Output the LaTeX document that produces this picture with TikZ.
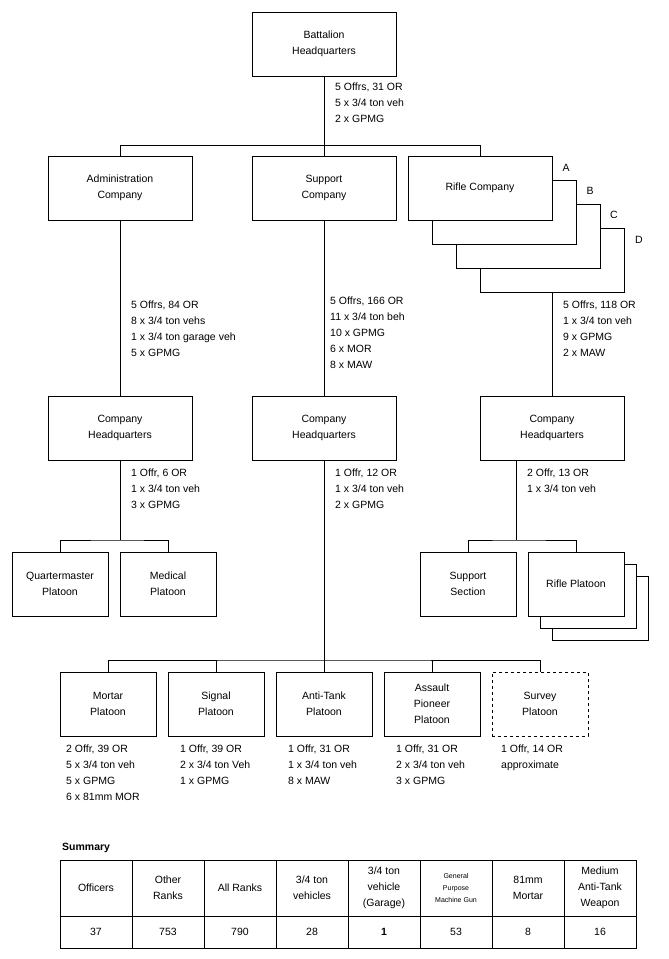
\documentclass[tikz,border=0pt]{standalone}
\usepackage{fontspec}
\setmainfont{Liberation Sans}
\begin{document}
\begin{tikzpicture}[x=1pt,y=-1pt,font=\fontsize{10.5}{16}\selectfont,
 bx/.style={draw,fill=white,align=center,inner sep=0},
 info/.style={anchor=north west,align=left,inner sep=0,font=\fontsize{10.5}{16}\selectfont},
 hd/.style={align=center,inner sep=0,font=\fontsize{10.5}{16}\selectfont}]
\useasboundingbox[fill=white] (0,0) rectangle (669,959);
% Battalion
\node[bx,minimum width=144,minimum height=64] (bn) at (324,44) {Battalion\\Headquarters};
\node[info] (bni) at (335,83) {5 Offrs, 31 OR\\5 x 3/4 ton veh\\2 x GPMG};
\coordinate (j1) at (324,145);
\draw (bn.south) -- (j1);
\draw (120,145) coordinate (jl) -- (480,145) coordinate (jr);
% companies
\node[bx,minimum width=144,minimum height=64] (adm) at (120,188) {Administration\\Company};
\node[bx,minimum width=144,minimum height=64] (sup) at (324,188) {Support\\Company};
\node[bx,minimum width=144,minimum height=64] (rD) at (552,260) {};
\node[bx,minimum width=144,minimum height=64] (rC) at (528,236) {};
\node[bx,minimum width=144,minimum height=64] (rB) at (504,212) {};
\node[bx,minimum width=144,minimum height=64] (rA) at (480,188) {Rifle Company};
\draw (jl) -- (adm.north); \draw (j1) -- (sup.north); \draw (jr) -- (rA.north);
\node (lA) at (566,168) {A}; \node (lB) at (590,191) {B};
\node (lC) at (614,215) {C}; \node (lD) at (639,240) {D};
% company HQs
\node[bx,minimum width=144,minimum height=64] (ahq) at (120,428) {Company\\Headquarters};
\node[bx,minimum width=144,minimum height=64] (shq) at (324,428) {Company\\Headquarters};
\node[bx,minimum width=144,minimum height=64] (rhq) at (552,428) {Company\\Headquarters};
\draw (adm.south) -- (ahq.north); \draw (sup.south) -- (shq.north); \draw (rD.south) -- (rhq.north);
\node[info] (ai) at (131,301) {5 Offrs, 84 OR\\8 x 3/4 ton vehs\\1 x 3/4 ton garage veh\\5 x GPMG};
\node[info] (si) at (330,297) {5 Offrs, 166 OR\\11 x 3/4 ton beh\\10 x GPMG\\6 x MOR\\8 x MAW};
\node[info] (ri) at (563,301) {5 Offrs, 118 OR\\1 x 3/4 ton veh\\9 x GPMG\\2 x MAW};
\node[info] (ahi) at (131,469) {1 Offr, 6 OR\\1 x 3/4 ton veh\\3 x GPMG};
\node[info] (shi) at (335,469) {1 Offr, 12 OR\\1 x 3/4 ton veh\\2 x GPMG};
\node[info] (rhi) at (527,469) {2 Offr, 13 OR\\1 x 3/4 ton veh};
% admin platoons
\node[bx,minimum width=96,minimum height=64] (qm) at (60,584) {Quartermaster\\Platoon};
\node[bx,minimum width=96,minimum height=64] (med) at (168,584) {Medical\\Platoon};
\coordinate (ja) at (120,540);
\draw (ahq.south) -- (ja); \draw (qm.north) |- (ja) -| (med.north);
% rifle platoons
\node[bx,minimum width=96,minimum height=64] (ss) at (468,584) {Support\\Section};
\node[bx,minimum width=96,minimum height=64] (rp3) at (600,608) {};
\node[bx,minimum width=96,minimum height=64] (rp2) at (588,596) {};
\node[bx,minimum width=96,minimum height=64] (rp) at (576,584) {Rifle Platoon};
\coordinate (jr2) at (516,540);
\coordinate (jr1) at (516,460);
\draw (jr1) -- (jr2); \draw (ss.north) |- (jr2) -| (rp.north);
% support platoons
\coordinate (js) at (324,660);
\draw (shq.south) -- (js);
\node[bx,minimum width=96,minimum height=64] (mor) at (108,704) {Mortar\\Platoon};
\node[bx,minimum width=96,minimum height=64] (sig) at (216,704) {Signal\\Platoon};
\node[bx,minimum width=96,minimum height=64] (at) at (324,704) {Anti-Tank\\Platoon};
\node[bx,minimum width=96,minimum height=64] (ap) at (432,704) {Assault\\Pioneer\\Platoon};
\node[bx,dashed,minimum width=96,minimum height=64] (sv) at (540,704) {Survey\\Platoon};
\draw (mor.north) |- (js) -| (sv.north);
\draw (sig.north) -- (sig.north|-js); \draw (at.north) -- (js); \draw (ap.north) -- (ap.north|-js);
\node[info] (mi) at (66,745) {2 Offr, 39 OR\\5 x 3/4 ton veh\\5 x GPMG\\6 x 81mm MOR};
\node[info] (sgi) at (180,745) {1 Offr, 39 OR\\2 x 3/4 ton Veh\\1 x GPMG};
\node[info] (ati) at (288,745) {1 Offr, 31 OR\\1 x 3/4 ton veh\\8 x MAW};
\node[info] (api) at (396,745) {1 Offr, 31 OR\\2 x 3/4 ton veh\\3 x GPMG};
\node[info] (svi) at (501,745) {1 Offr, 14 OR\\approximate};
% summary table
\node[anchor=west,inner sep=0,font=\fontsize{10.5}{12}\selectfont\bfseries] (sum) at (62,848) {Summary};
\draw (60,860) rectangle (636,948);
\draw (60,916) -- (636,916);
\foreach \x in {132,204,276,348,420,492,564} \draw (\x,860) -- (\x,948);
\node[hd] (h1) at (96,888) {Officers};
\node[hd] (h2) at (168,888) {Other\\Ranks};
\node[hd] (h3) at (240,888) {All Ranks};
\node[hd] (h4) at (312,888) {3/4 ton\\vehicles};
\node[hd] (h5) at (384,888) {3/4 ton\\vehicle\\(Garage)};
\node[hd,font=\fontsize{7}{12}\selectfont] (h6) at (456,888) {General\\Purpose\\Machine Gun};
\node[hd] (h7) at (528,888) {81mm\\Mortar};
\node[hd] (h8) at (600,888) {Medium\\Anti-Tank\\Weapon};
\foreach \t [count=\i] in {37,753,790,28,\textbf{1},53,8,16}
  \node[inner sep=0] (v\i) at (24+72*\i,932) {\t};
\end{tikzpicture}
\end{document}
